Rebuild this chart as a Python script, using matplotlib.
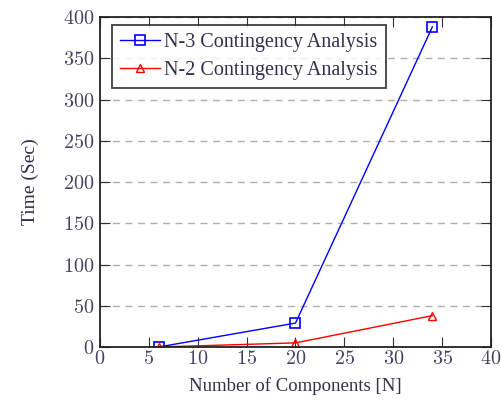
import matplotlib
matplotlib.use("Agg")
import matplotlib.pyplot as plt
from matplotlib.ticker import FuncFormatter

plt.rcParams['font.family'] = ['Liberation Serif', 'DejaVu Serif']
plt.rcParams['mathtext.fontset'] = 'cm'

n3_x = [6, 20, 34]
n3_y = [0, 29, 388]
n2_x = [6, 20, 34]
n2_y = [0, 5, 38]
x_ticks = [0, 5, 10, 15, 20, 25, 30, 35, 40]
y_ticks = [0, 50, 100, 150, 200, 250, 300, 350, 400]

fig = plt.figure(figsize=(5.02, 4.0), dpi=100)
ax = fig.add_axes([100/502, 1-347/400, 391/502, 330/400])

ax.plot(n3_x, n3_y, color='blue', lw=1.0, marker='s', markersize=7,
        markerfacecolor='none', markeredgecolor='blue', markeredgewidth=1.2,
        label='N-3 Contingency Analysis')
ax.plot(n2_x, n2_y, color='red', lw=1.0, marker='^', markersize=6,
        markerfacecolor='none', markeredgecolor='red', markeredgewidth=1.0,
        label='N-2 Contingency Analysis')

ax.set_xlim(0, 40)
ax.set_ylim(0, 400)
ax.set_xticks(x_ticks)
ax.set_yticks(y_ticks)
fmt = FuncFormatter(lambda v, p: r'$%d$' % v)
ax.xaxis.set_major_formatter(fmt)
ax.yaxis.set_major_formatter(fmt)
ax.tick_params(direction='in', top=True, right=True, length=7, width=0.8,
               labelsize=14.5, colors='#333333', labelcolor='#4a4060')
ax.tick_params(axis='x', pad=2)
ax.tick_params(axis='y', pad=4)
ax.yaxis.grid(True, linestyle=(0, (5, 4)), color='#b0b0b0', lw=1.0)
ax.set_axisbelow(True)
for s in ax.spines.values():
    s.set_linewidth(1.3)
    s.set_color('#222222')

ax.set_xlabel('Number of Components [N]', fontsize=13.5, labelpad=6, color='#33304a')
ax.set_ylabel('Time (Sec)', fontsize=14, labelpad=17, color='#33304a')

leg = ax.legend(loc='upper left', bbox_to_anchor=(0.03, 0.975), fontsize=14.5,
                frameon=True, fancybox=False, edgecolor='#111111',
                handlelength=2.0, handletextpad=0.2, borderpad=0.4,
                labelspacing=0.4, borderaxespad=0)
leg.get_frame().set_linewidth(1.3)
for t in leg.get_texts():
    t.set_color('#33304a')

fig.savefig('out.png', dpi=100)
